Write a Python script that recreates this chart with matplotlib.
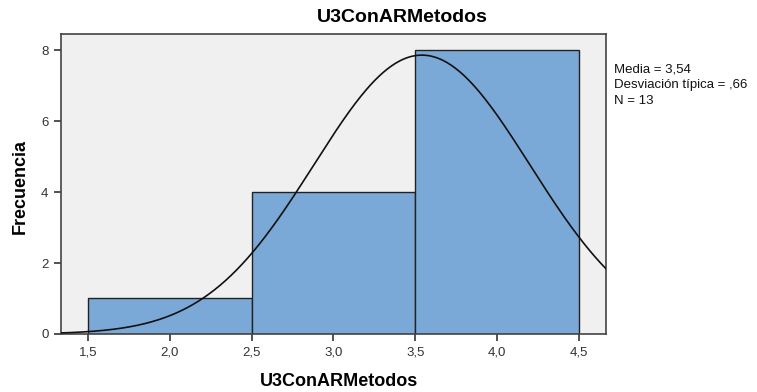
import numpy as np
import matplotlib
matplotlib.use("Agg")
from matplotlib import pyplot as plt

# datos del histograma
bordes = [1.5, 2.5, 3.5, 4.5]
frecuencias = [1, 4, 8]
media = 3.54
desviacion = 0.66
n = 13
xticks = [1.5, 2.0, 2.5, 3.0, 3.5, 4.0, 4.5]
xtick_labels = ["1,5", "2,0", "2,5", "3,0", "3,5", "4,0", "4,5"]
yticks = [0, 2, 4, 6, 8]

plt.rcParams['font.family'] = ['Liberation Sans', 'DejaVu Sans']

fig = plt.figure(figsize=(7.57, 3.92), dpi=100)
ax = fig.add_axes([0.0806, 0.148, 0.7199, 0.765])
ax.set_facecolor("#F0F0F0")

anchos = np.diff(bordes)
ax.bar(bordes[:-1], frecuencias, width=anchos, align="edge",
       color="#7BA9D7", edgecolor="#222222", linewidth=1.0, zorder=2)

# curva normal escalada
x = np.linspace(1.3, 4.7, 400)
ancho_bin = anchos[0]
y = n * ancho_bin / (desviacion * np.sqrt(2 * np.pi)) * np.exp(-0.5 * ((x - media) / desviacion) ** 2)
ax.plot(x, y, color="#111111", linewidth=1.2, zorder=3)

ax.set_xlim(1.335, 4.665)
ax.set_ylim(0, 8.45)
ax.set_xticks(xticks)
ax.set_xticklabels(xtick_labels)
ax.set_yticks(yticks)
ax.tick_params(direction="out", length=5, width=1.2, color="#333333",
               labelsize=9.5, labelcolor="#333333", pad=4)
for s in ax.spines.values():
    s.set_color("#444444")
    s.set_linewidth(1.2)

fig.text(402 / 757, 1 - 18 / 392, "U3ConARMetodos", fontsize=14,
         fontweight="bold", ha="center", va="center")
fig.text(339 / 757, 1 - 382 / 392, "U3ConARMetodos", fontsize=13,
         fontweight="bold", ha="center", va="center")
fig.text(20 / 757, 1 - 187 / 392, "Frecuencia", fontsize=13,
         fontweight="bold", ha="center", va="center", rotation=90)

fig.text(614 / 757, 1 - 64 / 392,
         "Media = 3,54\nDesviación típica = ,66\nN = 13",
         fontsize=9.5, va="top", ha="left", linespacing=1.38, color="#111111")

fig.savefig("out.png", dpi=100)
